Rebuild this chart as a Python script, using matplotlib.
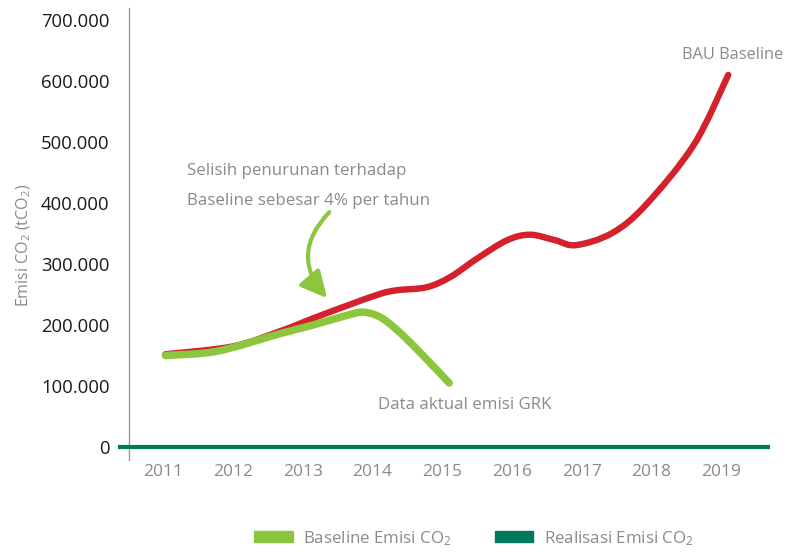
import matplotlib.pyplot as plt
from matplotlib.path import Path
from matplotlib.patches import PathPatch, Patch, FancyArrowPatch
from matplotlib.ticker import FuncFormatter

plt.rcParams['font.family'] = ['Open Sans', 'DejaVu Sans']
plt.rcParams['mathtext.fontset'] = 'custom'
plt.rcParams['mathtext.rm'] = 'Open Sans'
plt.rcParams['mathtext.it'] = 'Open Sans'

# nilai (ribu tCO2)
tahun = [2011, 2012, 2013, 2014, 2015, 2016, 2017, 2018, 2019]
bau_x = [2011.03, 2012.0, 2012.68, 2013.15, 2013.64, 2014.11, 2014.35, 2014.78,
         2015.12, 2015.5, 2015.93, 2016.26, 2016.62, 2016.92, 2017.44, 2017.92,
         2018.61, 2019.1]
bau_y = [152, 165, 190, 211, 232, 251, 257, 262, 279, 309, 339, 348, 339, 331,
         351, 397, 496, 610]
aktual_x = [2011.03, 2011.77, 2012.68, 2013.15, 2013.64, 2013.87, 2014.11, 2014.35,
            2014.64, 2015.1]
aktual_y = [150, 157, 186, 200, 216, 221, 213, 192, 160, 105]
y_ticks = [0, 100, 200, 300, 400, 500, 600, 700]

MERAH = '#D4212B'
HIJAU = '#8CC63F'
TOSKA = '#007A5E'
ABU = '#8A8A8C'


def kurva_halus(xs, ys):
    """Path Bezier (Catmull-Rom) lewat titik-titik data."""
    verts = [(xs[0], ys[0])]
    codes = [Path.MOVETO]
    n = len(xs)
    for i in range(n - 1):
        x0, y0 = (xs[i - 1], ys[i - 1]) if i > 0 else (xs[i], ys[i])
        x1, y1 = xs[i], ys[i]
        x2, y2 = xs[i + 1], ys[i + 1]
        x3, y3 = (xs[i + 2], ys[i + 2]) if i + 2 < n else (x2, y2)
        c1 = (x1 + (x2 - x0) / 6, y1 + (y2 - y0) / 6)
        c2 = (x2 - (x3 - x1) / 6, y2 - (y3 - y1) / 6)
        verts += [c1, c2, (x2, y2)]
        codes += [Path.CURVE4] * 3
    return Path(verts, codes)


fig = plt.figure(figsize=(7.86, 5.52), dpi=100)
ax = fig.add_axes([129 / 786, 1 - 460 / 552, (768 - 129) / 786, (460 - 8) / 552])
ax.set_xlim(2010.51, 2019.67)
ax.set_ylim(-21.3, 719.7)

ax.add_patch(PathPatch(kurva_halus(bau_x, bau_y), fill=False, color=MERAH,
                       lw=4.6, capstyle='round', zorder=3))
ax.add_patch(PathPatch(kurva_halus(aktual_x, aktual_y), fill=False, color=HIJAU,
                       lw=5.4, capstyle='round', zorder=4))

ax.axhline(0, xmin=-0.014, xmax=1, color=TOSKA, lw=3, clip_on=False, zorder=5)

for s in ['top', 'right', 'bottom']:
    ax.spines[s].set_visible(False)
ax.spines['left'].set_color('#9a9a9a')
ax.spines['left'].set_linewidth(1)

ax.set_xticks(tahun)
ax.set_xticklabels([str(t) for t in tahun])
ax.set_yticks(y_ticks)
ax.yaxis.set_major_formatter(FuncFormatter(lambda v, p: '0' if v == 0 else f'{int(v)}.000'))
ax.tick_params(axis='y', length=0, pad=14, labelsize=13.3, labelcolor='#1a1a1a')
ax.tick_params(axis='x', length=0, pad=3, labelsize=12.5, labelcolor=ABU)

fig.text(24 / 786, 1 - 245 / 552, 'Emisi CO$_2$ (tCO$_2$)', rotation=90,
         ha='center', va='center', color=ABU, fontsize=11.5)

fs = 12.2
fig.text(783 / 786, 1 - 55 / 552, 'BAU Baseline', color=ABU, fontsize=11.8,
         va='center', ha='right')
ax.text(2014.08, 69, 'Data aktual emisi GRK', color=ABU, fontsize=fs, va='center', ha='left')
ax.text(2011.34, 452, 'Selisih penurunan terhadap', color=ABU, fontsize=fs, va='center', ha='left')
ax.text(2011.34, 403, 'Baseline sebesar 4% per tahun', color=ABU, fontsize=fs, va='center', ha='left')

panah = FancyArrowPatch((2013.38, 385), (2013.35, 244),
                        connectionstyle='arc3,rad=0.45',
                        arrowstyle='-|>,head_length=0.8,head_width=0.4',
                        mutation_scale=20, shrinkA=0, shrinkB=0,
                        color=HIJAU, lw=3, zorder=6)
ax.add_patch(panah)

handles = [Patch(color=HIJAU, label='Baseline Emisi CO$_2$'),
           Patch(color=TOSKA, label='Realisasi Emisi CO$_2$')]
leg = fig.legend(handles=handles, loc='center', bbox_to_anchor=(0.603, 0.025),
                 ncol=2, frameon=False, fontsize=fs, handlelength=2.25,
                 handleheight=0.6, columnspacing=2.6, handletextpad=0.6)
for t in leg.get_texts():
    t.set_color(ABU)

fig.savefig('out.png', dpi=100)
